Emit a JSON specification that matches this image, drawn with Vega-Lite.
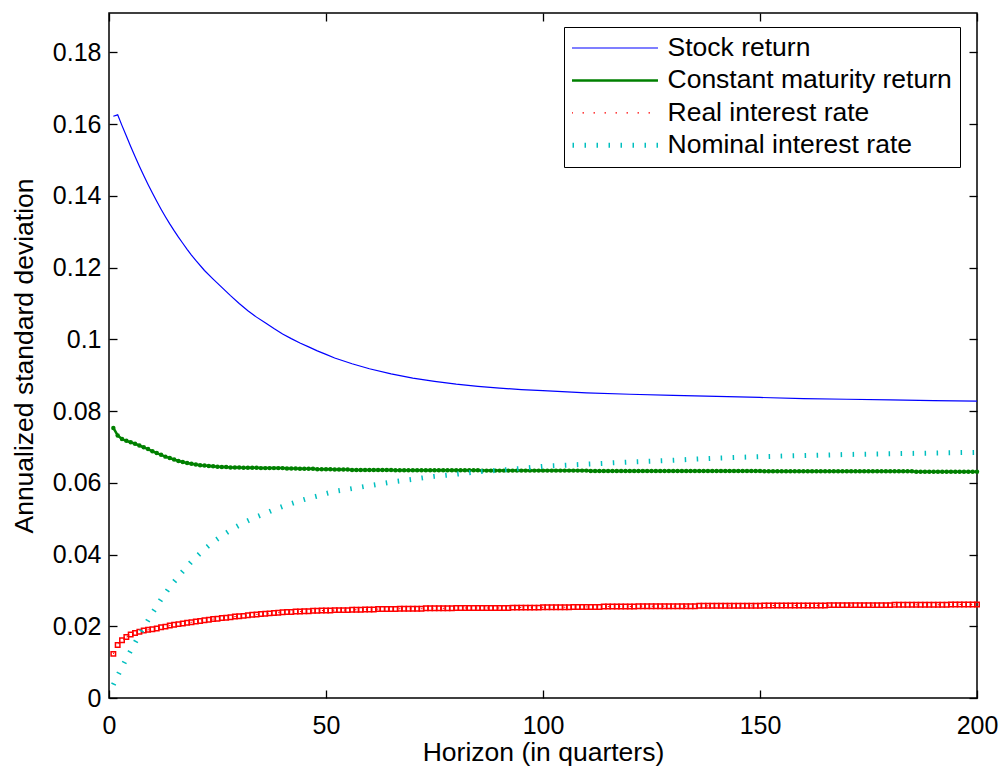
{
  "$schema": "https://vega.github.io/schema/vega-lite/v6.json",
  "width": 868,
  "height": 685,
  "autosize": {"type": "none"},
  "padding": {"left": 109, "top": 13, "right": 27, "bottom": 71},
  "background": "white",
  "config": {
    "view": {"stroke": "#000", "strokeWidth": 1.5},
    "font": "Liberation Sans",
    "axis": {
      "labelFont": "Liberation Sans", "titleFont": "Liberation Sans",
      "labelColor": "#000", "titleColor": "#000", "tickColor": "#000", "tickWidth": 1.3,
      "domain": false, "grid": false, "labelFontSize": 25, "titleFontSize": 26.5,
      "titleFontWeight": "normal", "labelFlush": false, "tickSize": -8
    },
    "legend": {
      "padding": 8, "strokeColor": "#000", "fillColor": "#fff",
      "labelFont": "Liberation Sans", "labelFontSize": 26.5, "labelColor": "#000",
      "labelLimit": 500,
      "symbolType": "stroke", "symbolSize": 9500,
      "clipHeight": 26, "rowPadding": 5.4
    }
  },
  "datasets": {
    "markers": [
      {"h":1,"c":0.0753,"r":0.0123},{"h":2,"c":0.0732,"r":0.0148},{"h":3,"c":0.0722,"r":0.0161},{"h":4,"c":0.0717,"r":0.0170},{"h":5,"c":0.0713,"r":0.0177},
      {"h":6,"c":0.0709,"r":0.0181},{"h":7,"c":0.0704,"r":0.0185},{"h":8,"c":0.0699,"r":0.0188},{"h":9,"c":0.0694,"r":0.0190},{"h":10,"c":0.0688,"r":0.0192},
      {"h":11,"c":0.0683,"r":0.0194},{"h":12,"c":0.0678,"r":0.0197},{"h":13,"c":0.0673,"r":0.0199},{"h":14,"c":0.0669,"r":0.0202},{"h":15,"c":0.0665,"r":0.0204},
      {"h":16,"c":0.0661,"r":0.0206},{"h":17,"c":0.0658,"r":0.0208},{"h":18,"c":0.0655,"r":0.0210},{"h":19,"c":0.0653,"r":0.0211},{"h":20,"c":0.0651,"r":0.0213},
      {"h":21,"c":0.0649,"r":0.0215},{"h":22,"c":0.0648,"r":0.0217},{"h":23,"c":0.0647,"r":0.0218},{"h":24,"c":0.0646,"r":0.0220},{"h":25,"c":0.0645,"r":0.0221},
      {"h":26,"c":0.0644,"r":0.0223},{"h":27,"c":0.0644,"r":0.0224},{"h":28,"c":0.0643,"r":0.0225},{"h":29,"c":0.0643,"r":0.0227},{"h":30,"c":0.0643,"r":0.0228},
      {"h":31,"c":0.0642,"r":0.0229},{"h":32,"c":0.0642,"r":0.0231},{"h":33,"c":0.0642,"r":0.0232},{"h":34,"c":0.0642,"r":0.0233},{"h":35,"c":0.0641,"r":0.0234},
      {"h":36,"c":0.0641,"r":0.0235},{"h":37,"c":0.0641,"r":0.0236},{"h":38,"c":0.0641,"r":0.0237},{"h":39,"c":0.0641,"r":0.0238},{"h":40,"c":0.0641,"r":0.0239},
      {"h":41,"c":0.0640,"r":0.0240},{"h":42,"c":0.0640,"r":0.0240},{"h":43,"c":0.0640,"r":0.0241},{"h":44,"c":0.0639,"r":0.0241},{"h":45,"c":0.0639,"r":0.0242},
      {"h":46,"c":0.0639,"r":0.0242},{"h":47,"c":0.0639,"r":0.0243},{"h":48,"c":0.0638,"r":0.0243},{"h":49,"c":0.0638,"r":0.0244},{"h":50,"c":0.0638,"r":0.0244},
      {"h":51,"c":0.0638,"r":0.0244},{"h":52,"c":0.0637,"r":0.0245},{"h":53,"c":0.0637,"r":0.0245},{"h":54,"c":0.0637,"r":0.0245},{"h":55,"c":0.0637,"r":0.0245},
      {"h":56,"c":0.0636,"r":0.0246},{"h":57,"c":0.0636,"r":0.0246},{"h":58,"c":0.0636,"r":0.0246},{"h":59,"c":0.0636,"r":0.0247},{"h":60,"c":0.0636,"r":0.0247},
      {"h":61,"c":0.0636,"r":0.0247},{"h":62,"c":0.0636,"r":0.0248},{"h":63,"c":0.0636,"r":0.0248},{"h":64,"c":0.0636,"r":0.0248},{"h":65,"c":0.0636,"r":0.0248},
      {"h":66,"c":0.0635,"r":0.0248},{"h":67,"c":0.0635,"r":0.0249},{"h":68,"c":0.0635,"r":0.0249},{"h":69,"c":0.0635,"r":0.0249},{"h":70,"c":0.0635,"r":0.0249},
      {"h":71,"c":0.0635,"r":0.0249},{"h":72,"c":0.0635,"r":0.0249},{"h":73,"c":0.0635,"r":0.0250},{"h":74,"c":0.0635,"r":0.0250},{"h":75,"c":0.0635,"r":0.0250},
      {"h":76,"c":0.0635,"r":0.0250},{"h":77,"c":0.0635,"r":0.0250},{"h":78,"c":0.0635,"r":0.0250},{"h":79,"c":0.0635,"r":0.0250},{"h":80,"c":0.0635,"r":0.0251},
      {"h":81,"c":0.0635,"r":0.0251},{"h":82,"c":0.0635,"r":0.0251},{"h":83,"c":0.0635,"r":0.0251},{"h":84,"c":0.0635,"r":0.0251},{"h":85,"c":0.0635,"r":0.0251},
      {"h":86,"c":0.0634,"r":0.0251},{"h":87,"c":0.0634,"r":0.0251},{"h":88,"c":0.0634,"r":0.0251},{"h":89,"c":0.0634,"r":0.0251},{"h":90,"c":0.0634,"r":0.0251},
      {"h":91,"c":0.0634,"r":0.0251},{"h":92,"c":0.0634,"r":0.0251},{"h":93,"c":0.0634,"r":0.0252},{"h":94,"c":0.0634,"r":0.0252},{"h":95,"c":0.0634,"r":0.0252},
      {"h":96,"c":0.0634,"r":0.0252},{"h":97,"c":0.0634,"r":0.0252},{"h":98,"c":0.0634,"r":0.0252},{"h":99,"c":0.0634,"r":0.0252},{"h":100,"c":0.0634,"r":0.0253},
      {"h":101,"c":0.0634,"r":0.0253},{"h":102,"c":0.0634,"r":0.0253},{"h":103,"c":0.0634,"r":0.0253},{"h":104,"c":0.0634,"r":0.0253},{"h":105,"c":0.0634,"r":0.0253},
      {"h":106,"c":0.0634,"r":0.0253},{"h":107,"c":0.0634,"r":0.0254},{"h":108,"c":0.0634,"r":0.0254},{"h":109,"c":0.0634,"r":0.0254},{"h":110,"c":0.0634,"r":0.0254},
      {"h":111,"c":0.0633,"r":0.0254},{"h":112,"c":0.0633,"r":0.0254},{"h":113,"c":0.0633,"r":0.0254},{"h":114,"c":0.0633,"r":0.0255},{"h":115,"c":0.0633,"r":0.0255},
      {"h":116,"c":0.0633,"r":0.0255},{"h":117,"c":0.0633,"r":0.0255},{"h":118,"c":0.0633,"r":0.0255},{"h":119,"c":0.0633,"r":0.0255},{"h":120,"c":0.0633,"r":0.0255},
      {"h":121,"c":0.0633,"r":0.0255},{"h":122,"c":0.0633,"r":0.0256},{"h":123,"c":0.0633,"r":0.0256},{"h":124,"c":0.0633,"r":0.0256},{"h":125,"c":0.0633,"r":0.0256},
      {"h":126,"c":0.0633,"r":0.0256},{"h":127,"c":0.0633,"r":0.0256},{"h":128,"c":0.0633,"r":0.0256},{"h":129,"c":0.0633,"r":0.0256},{"h":130,"c":0.0633,"r":0.0256},
      {"h":131,"c":0.0633,"r":0.0256},{"h":132,"c":0.0633,"r":0.0256},{"h":133,"c":0.0633,"r":0.0256},{"h":134,"c":0.0633,"r":0.0256},{"h":135,"c":0.0633,"r":0.0256},
      {"h":136,"c":0.0633,"r":0.0257},{"h":137,"c":0.0633,"r":0.0257},{"h":138,"c":0.0633,"r":0.0257},{"h":139,"c":0.0633,"r":0.0257},{"h":140,"c":0.0633,"r":0.0257},
      {"h":141,"c":0.0633,"r":0.0257},{"h":142,"c":0.0633,"r":0.0257},{"h":143,"c":0.0633,"r":0.0257},{"h":144,"c":0.0633,"r":0.0257},{"h":145,"c":0.0633,"r":0.0257},
      {"h":146,"c":0.0633,"r":0.0257},{"h":147,"c":0.0633,"r":0.0257},{"h":148,"c":0.0633,"r":0.0257},{"h":149,"c":0.0633,"r":0.0257},{"h":150,"c":0.0633,"r":0.0257},
      {"h":151,"c":0.0632,"r":0.0258},{"h":152,"c":0.0632,"r":0.0258},{"h":153,"c":0.0632,"r":0.0258},{"h":154,"c":0.0632,"r":0.0258},{"h":155,"c":0.0632,"r":0.0258},
      {"h":156,"c":0.0632,"r":0.0258},{"h":157,"c":0.0632,"r":0.0258},{"h":158,"c":0.0632,"r":0.0258},{"h":159,"c":0.0632,"r":0.0258},{"h":160,"c":0.0632,"r":0.0258},
      {"h":161,"c":0.0632,"r":0.0258},{"h":162,"c":0.0632,"r":0.0258},{"h":163,"c":0.0632,"r":0.0258},{"h":164,"c":0.0632,"r":0.0258},{"h":165,"c":0.0632,"r":0.0258},
      {"h":166,"c":0.0632,"r":0.0259},{"h":167,"c":0.0632,"r":0.0259},{"h":168,"c":0.0632,"r":0.0259},{"h":169,"c":0.0632,"r":0.0259},{"h":170,"c":0.0632,"r":0.0259},
      {"h":171,"c":0.0632,"r":0.0259},{"h":172,"c":0.0632,"r":0.0259},{"h":173,"c":0.0632,"r":0.0259},{"h":174,"c":0.0632,"r":0.0259},{"h":175,"c":0.0632,"r":0.0259},
      {"h":176,"c":0.0632,"r":0.0259},{"h":177,"c":0.0632,"r":0.0259},{"h":178,"c":0.0632,"r":0.0259},{"h":179,"c":0.0632,"r":0.0259},{"h":180,"c":0.0632,"r":0.0259},
      {"h":181,"c":0.0632,"r":0.0260},{"h":182,"c":0.0632,"r":0.0260},{"h":183,"c":0.0632,"r":0.0260},{"h":184,"c":0.0632,"r":0.0260},{"h":185,"c":0.0632,"r":0.0260},
      {"h":186,"c":0.0631,"r":0.0260},{"h":187,"c":0.0631,"r":0.0260},{"h":188,"c":0.0631,"r":0.0260},{"h":189,"c":0.0631,"r":0.0260},{"h":190,"c":0.0631,"r":0.0260},
      {"h":191,"c":0.0631,"r":0.0260},{"h":192,"c":0.0631,"r":0.0260},{"h":193,"c":0.0631,"r":0.0260},{"h":194,"c":0.0631,"r":0.0261},{"h":195,"c":0.0631,"r":0.0261},
      {"h":196,"c":0.0631,"r":0.0261},{"h":197,"c":0.0631,"r":0.0261},{"h":198,"c":0.0631,"r":0.0261},{"h":199,"c":0.0631,"r":0.0261},{"h":200,"c":0.0631,"r":0.0261}
    ],
    "lines": [
      {"h":1,"s":0.1622,"n":0.0037},{"h":2,"s":0.1626,"n":0.0062},{"h":3,"s":0.1596,"n":0.0086},{"h":4,"s":0.1567,"n":0.0110},
      {"h":5,"s":0.1538,"n":0.0132},{"h":6,"s":0.1510,"n":0.0154},{"h":7,"s":0.1483,"n":0.0176},{"h":8,"s":0.1457,"n":0.0197},
      {"h":9,"s":0.1432,"n":0.0217},{"h":10,"s":0.1408,"n":0.0237},{"h":11,"s":0.1385,"n":0.0256},{"h":12,"s":0.1363,"n":0.0275},
      {"h":13,"s":0.1342,"n":0.0292},{"h":14,"s":0.1322,"n":0.0309},{"h":15,"s":0.1303,"n":0.0324},{"h":16,"s":0.1285,"n":0.0339},
      {"h":17,"s":0.1268,"n":0.0353},{"h":18,"s":0.1251,"n":0.0367},{"h":19,"s":0.1235,"n":0.0380},{"h":20,"s":0.1220,"n":0.0392},
      {"h":22,"s":0.1192,"n":0.0415},{"h":24,"s":0.1168,"n":0.0435},{"h":26,"s":0.1145,"n":0.0452},{"h":28,"s":0.1122,"n":0.0468},
      {"h":30,"s":0.1100,"n":0.0482},{"h":32,"s":0.1080,"n":0.0494},{"h":34,"s":0.1062,"n":0.0505},{"h":36,"s":0.1046,"n":0.0515},
      {"h":38,"s":0.1030,"n":0.0525},{"h":40,"s":0.1015,"n":0.0534},{"h":42,"s":0.1002,"n":0.0542},{"h":44,"s":0.0990,"n":0.0550},
      {"h":46,"s":0.0979,"n":0.0557},{"h":48,"s":0.0968,"n":0.0563},{"h":50,"s":0.0958,"n":0.0570},{"h":52,"s":0.0948,"n":0.0576},
      {"h":56,"s":0.0932,"n":0.0584},{"h":60,"s":0.0918,"n":0.0592},{"h":65,"s":0.0904,"n":0.0602},{"h":70,"s":0.0892,"n":0.0610},
      {"h":75,"s":0.0883,"n":0.0618},{"h":80,"s":0.0875,"n":0.0624},{"h":85,"s":0.0869,"n":0.0631},{"h":90,"s":0.0864,"n":0.0635},
      {"h":95,"s":0.0860,"n":0.0640},{"h":100,"s":0.0857,"n":0.0646},{"h":110,"s":0.0851,"n":0.0652},{"h":120,"s":0.0847,"n":0.0658},
      {"h":130,"s":0.0844,"n":0.0663},{"h":140,"s":0.0841,"n":0.0669},{"h":150,"s":0.0838,"n":0.0673},{"h":160,"s":0.0835,"n":0.0676},
      {"h":170,"s":0.0833,"n":0.0679},{"h":180,"s":0.0831,"n":0.0681},{"h":190,"s":0.0829,"n":0.0683},{"h":200,"s":0.0828,"n":0.0685}
    ]
  },
  "resolve": {"axis": {"x": "independent", "y": "independent"}},
  "layer": [
    {
      "data": {"name": "markers"},
      "transform": [{"fold": ["c"], "as": ["series", "v"]}],
      "mark": {"type": "line", "strokeWidth": 2.5},
      "encoding": {
        "x": {"field": "h", "type": "quantitative", "scale": {"domain": [0, 200], "nice": false, "zero": false}, "axis": null},
        "y": {"field": "v", "type": "quantitative", "scale": {"domain": [0, 0.191], "nice": false}, "axis": null},
        "color": {"field": "series", "type": "nominal",
          "scale": {"domain": ["s", "c", "r", "n"], "range": ["#0000ff", "#008000", "#ff0000", "#00bfbf"]},
          "legend": {"title": null, "orient": "none", "legendX": 455, "legendY": 14,
            "symbolOffset": 24, "labelOffset": 45,
            "labelExpr": "{'s':'Stock return','c':'Constant maturity return','r':'Real interest rate','n':'Nominal interest rate'}[datum.label]",
            "encode": {"symbols": {"update": {
              "strokeWidth": {"signal": "datum.value == 'n' ? 5 : datum.value == 'c' ? 2.5 : 1.2"},
              "strokeDash": {"signal": "datum.value == 'n' ? [1.5, 10.5] : datum.value == 'r' ? [1.5, 9.5] : [1, 0]"}
            }}}
          }
        }
      }
    },
    {
      "data": {"name": "markers"},
      "mark": {"type": "point", "shape": "circle", "filled": true, "color": "#008000", "size": 20, "opacity": 1},
      "encoding": {
        "x": {"field": "h", "type": "quantitative", "axis": null},
        "y": {"field": "c", "type": "quantitative", "axis": null}
      }
    },
    {
      "data": {"name": "markers"},
      "transform": [{"fold": ["r"], "as": ["series", "v"]}],
      "mark": {"type": "line", "strokeWidth": 1, "strokeDash": [1.5, 9.5]},
      "encoding": {
        "x": {"field": "h", "type": "quantitative", "axis": null},
        "y": {"field": "v", "type": "quantitative", "axis": null},
        "color": {"field": "series", "type": "nominal"}
      }
    },
    {
      "data": {"name": "markers"},
      "mark": {"type": "point", "shape": "square", "filled": false, "stroke": "#ff0000", "strokeWidth": 1.5, "size": 20, "opacity": 1},
      "encoding": {
        "x": {"field": "h", "type": "quantitative",
          "axis": {"orient": "top", "values": [0, 50, 100, 150, 200], "labels": false, "title": null, "tickSize": -8}},
        "y": {"field": "r", "type": "quantitative",
          "axis": {"orient": "right", "values": [0, 0.02, 0.04, 0.06, 0.08, 0.1, 0.12, 0.14, 0.16, 0.18], "labels": false, "title": null, "tickSize": -8}}
      }
    },
    {
      "data": {"name": "lines"},
      "transform": [{"fold": ["s"], "as": ["series", "v"]}],
      "mark": {"type": "line", "strokeWidth": 1.2},
      "encoding": {
        "x": {"field": "h", "type": "quantitative",
          "axis": {"orient": "bottom", "values": [0, 50, 100, 150, 200], "title": "Horizon (in quarters)", "tickSize": -8, "labelPadding": 23, "titlePadding": 1}},
        "y": {"field": "v", "type": "quantitative",
          "axis": {"orient": "left", "values": [0, 0.02, 0.04, 0.06, 0.08, 0.1, 0.12, 0.14, 0.16, 0.18], "format": "~g", "title": "Annualized standard deviation", "tickSize": -8, "labelPadding": 16, "titlePadding": 14}},
        "color": {"field": "series", "type": "nominal"}
      }
    },
    {
      "data": {"name": "lines"},
      "transform": [{"fold": ["n"], "as": ["series", "v"]}],
      "mark": {"type": "line", "strokeWidth": 5, "strokeDash": [1.5, 10.5]},
      "encoding": {
        "x": {"field": "h", "type": "quantitative", "axis": null},
        "y": {"field": "v", "type": "quantitative", "axis": null},
        "color": {"field": "series", "type": "nominal"}
      }
    }
  ]
}
